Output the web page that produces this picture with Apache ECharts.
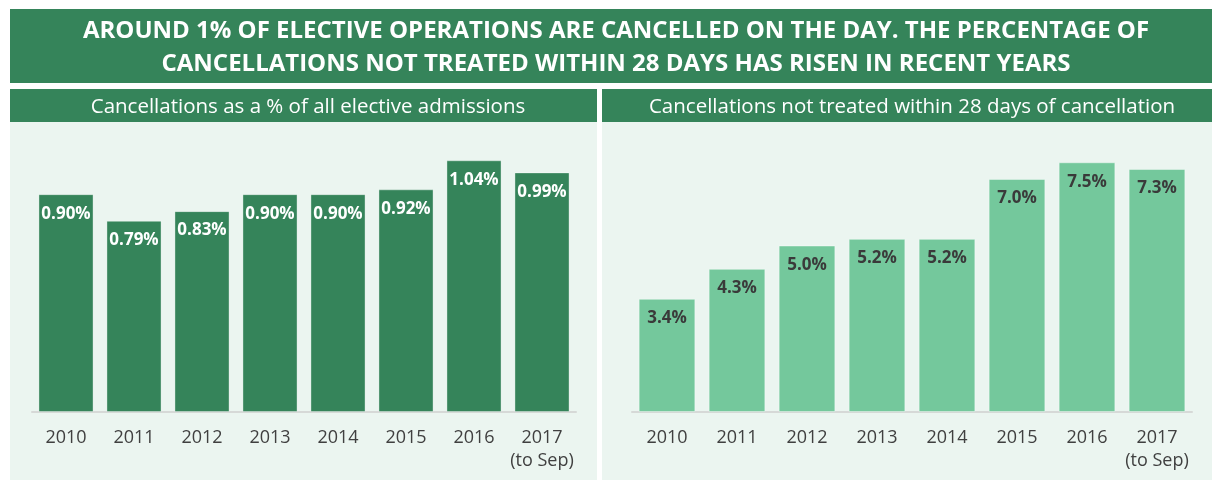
<!DOCTYPE html>
<html>
<head>
<meta charset="utf-8">
<script src="https://cdn.jsdelivr.net/npm/echarts@6/dist/echarts.min.js"></script>
<style>
  html, body { margin: 0; padding: 0; background: #fff; }
  #chart { width: 1212px; height: 480px; }
</style>
</head>
<body>
<div id="chart"></div>
<script>
// --- Data ---
const years = ['2010', '2011', '2012', '2013', '2014', '2015', '2016', '2017\n(to Sep)'];
const cancelPct = [0.90, 0.79, 0.83, 0.90, 0.90, 0.92, 1.04, 0.99];
const notTreatedPct = [3.4, 4.3, 5.0, 5.2, 5.2, 7.0, 7.5, 7.3];

const titleText = 'AROUND 1% OF ELECTIVE OPERATIONS ARE CANCELLED ON THE DAY. THE PERCENTAGE OF\nCANCELLATIONS NOT TREATED WITHIN 28 DAYS HAS RISEN IN RECENT YEARS';
const leftTitle = 'Cancellations as a % of all elective admissions';
const rightTitle = 'Cancellations not treated within 28 days of cancellation';

const DARK = '#35845a';
const LIGHT = '#74c89c';
const PANEL = '#ebf5f0';
const FONT = '"Open Sans", "Noto Sans", sans-serif';

const chart = echarts.init(document.getElementById('chart'), null, { renderer: 'canvas' });

function xAxis(gridIndex) {
  return {
    type: 'category',
    gridIndex,
    data: years,
    axisTick: { show: false },
    axisLine: { lineStyle: { color: '#d6d9d7', width: 2 } },
    axisLabel: { interval: 0, color: '#404040', fontSize: 18, fontFamily: FONT, margin: 14, lineHeight: 23 }
  };
}

chart.setOption({
  backgroundColor: '#ffffff',
  animation: false,
  graphic: [
    { type: 'rect', shape: { x: 10, y: 9, width: 1202, height: 74 }, style: { fill: DARK }, z: -10 },
    { type: 'rect', shape: { x: 10, y: 89, width: 587, height: 33 }, style: { fill: DARK }, z: -10 },
    { type: 'rect', shape: { x: 602, y: 89, width: 610, height: 33 }, style: { fill: DARK }, z: -10 },
    { type: 'rect', shape: { x: 10, y: 122, width: 587, height: 358 }, style: { fill: PANEL }, z: -10 },
    { type: 'rect', shape: { x: 602, y: 122, width: 610, height: 358 }, style: { fill: PANEL }, z: -10 }
  ],
  title: [
    {
      text: titleText, left: 611, top: 10, textAlign: 'center',
      textStyle: { color: '#fff', fontSize: 24, fontWeight: 'bold', fontFamily: FONT, lineHeight: 33, align: 'center' }
    },
    {
      text: leftTitle, left: 303, top: 92, textAlign: 'center',
      textStyle: { color: '#fff', fontSize: 20.5, fontWeight: 'normal', fontFamily: FONT }
    },
    {
      text: rightTitle, left: 907, top: 92, textAlign: 'center',
      textStyle: { color: '#fff', fontSize: 20.5, fontWeight: 'normal', fontFamily: FONT }
    }
  ],
  grid: [
    { left: 32, top: 124, width: 544, height: 288 },
    { left: 632, top: 124, width: 560, height: 288 }
  ],
  xAxis: [xAxis(0), xAxis(1)],
  yAxis: [
    { type: 'value', gridIndex: 0, min: 0, max: 1.19, show: false, splitLine: { show: false } },
    { type: 'value', gridIndex: 1, min: 0, max: 8.65, show: false, splitLine: { show: false } }
  ],
  series: [
    {
      type: 'bar', xAxisIndex: 0, yAxisIndex: 0, data: cancelPct,
      barCategoryGap: '19%',
      itemStyle: { color: DARK, borderColor: 'rgba(255,255,255,0.35)', borderWidth: 1 },
      label: {
        show: true, position: 'insideTop', distance: 11,
        formatter: p => p.value.toFixed(2) + '%',
        color: '#fff', fontSize: 17, fontWeight: 'bold', fontFamily: FONT
      }
    },
    {
      type: 'bar', xAxisIndex: 1, yAxisIndex: 1, data: notTreatedPct,
      barCategoryGap: '19%',
      itemStyle: { color: LIGHT, borderColor: 'rgba(255,255,255,0.4)', borderWidth: 1 },
      label: {
        show: true, position: 'insideTop', distance: 11,
        formatter: p => p.value.toFixed(1) + '%',
        color: '#3a3a3a', fontSize: 17, fontWeight: 'bold', fontFamily: FONT
      }
    }
  ]
});
</script>
</body>
</html>
